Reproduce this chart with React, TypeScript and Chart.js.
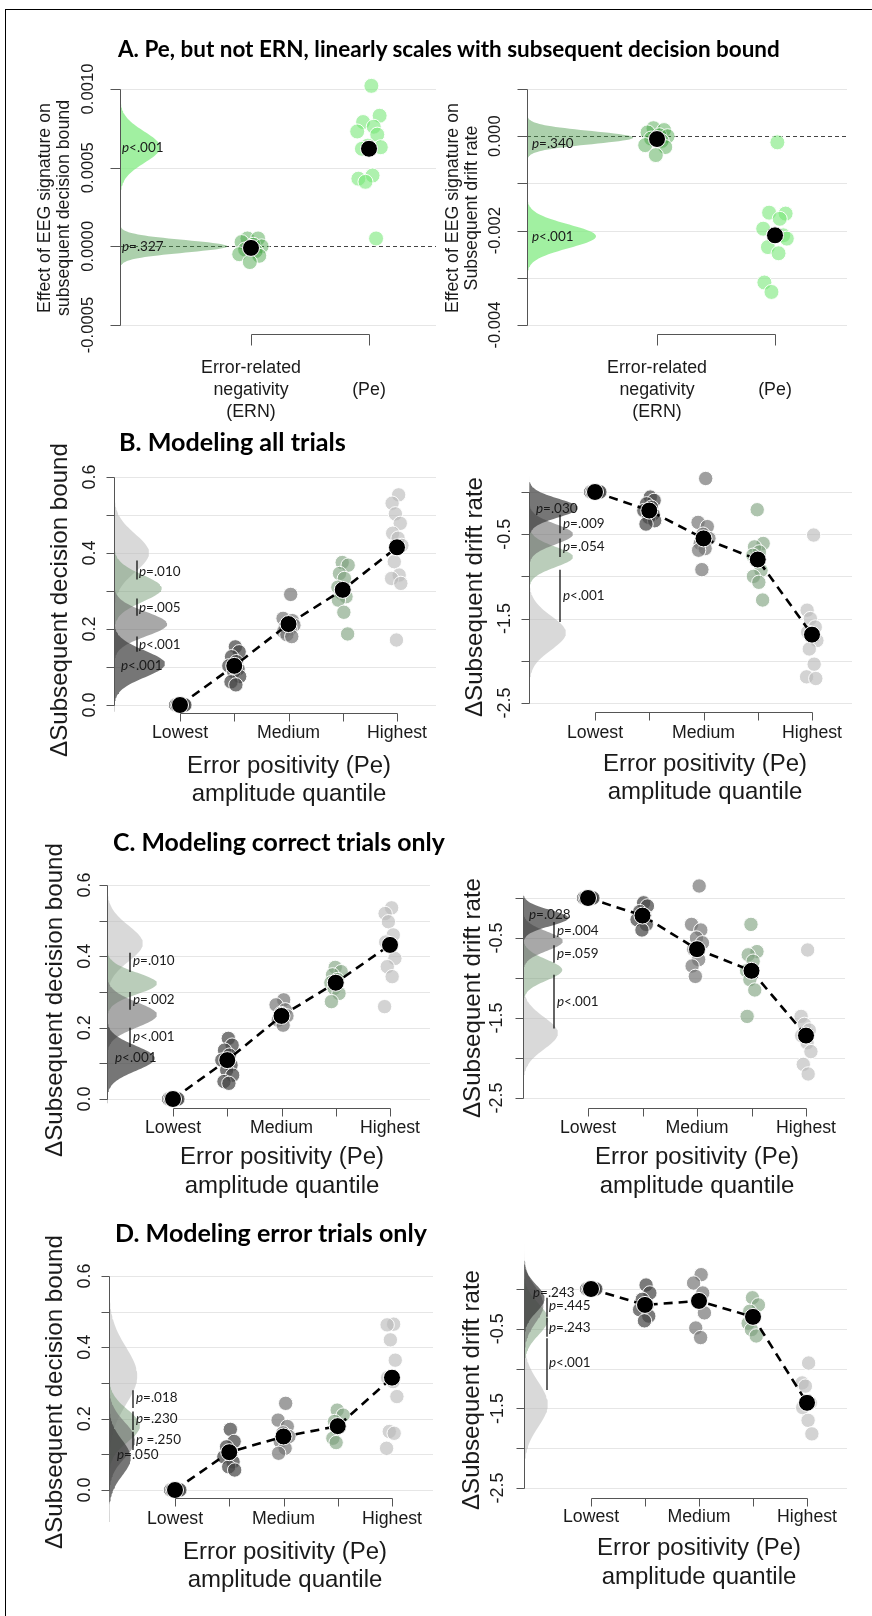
import React, { useEffect, useLayoutEffect, useRef } from "react";
import { Chart, registerables } from "chart.js";

Chart.register(...registerables);

// ======================= DATA =======================
const PANEL_TITLES = [
  "A. Pe, but not ERN, linearly scales with subsequent decision bound",
  "B. Modeling all trials",
  "C. Modeling correct trials only",
  "D. Modeling error trials only",
];

const QUANTILE_LABELS = ["Lowest", "", "Medium", "", "Highest"];
const A_CATEGORY_LABELS = [["Error-related", "negativity", "(ERN)"], ["(Pe)"]];
const X_TITLE = ["Error positivity (Pe)", "amplitude quantile"];
const BOUND_TITLE = ["ΔSubsequent decision bound"];
const DRIFT_TITLE = ["ΔSubsequent drift rate"];
const A1_Y_TITLE = ["Effect of EEG signature on", "subsequent decision bound"];
const A2_Y_TITLE = ["Effect of EEG signature on", "Subsequent drift rate"];

// fixed horizontal spread pattern (category units)
const JITTER = [-0.03, 0.06, -0.08, 0.02, 0.09, -0.05, 0.04, -0.1, 0.07, -0.01, 0.1, -0.06, 0.03, -0.09];

// ---- Panel A, left: decision bound ----
const A1_TICKS = [0.001, 0.0005, 0, -0.0005];
const A1_TICK_LABELS = ["0.0010", "0.0005", "0.0000", "-0.0005"];
const A1_ERN_POINTS = [0.00005, 0.00005, 0.000027, 0.00001, 0.0, -0.00002, -0.00003, -0.00005, -0.00006, -0.0001];
const A1_PE_POINTS = [0.00102, 0.00083, 0.00079, 0.00076, 0.00073, 0.00071, 0.00064, 0.00063, 0.00062, 0.00045, 0.00043, 0.00041, 0.00005];
const A1_MEANS = [-0.00001, 0.00062];
const A1_DENS_MEAN = [0.0, 0.00063];
const A1_DENS_SD = [0.00004, 0.0001];
const A1_DENS_PEAK = [0.91, 0.34];
const A1_P_TEXT = ["p=.327", "p<.001"];
const A1_P_Y = [0.0, 0.00063];

// ---- Panel A, right: drift rate ----
const A2_TICKS = [0.001, 0, -0.001, -0.002, -0.003, -0.004];
const A2_TICK_LABELS = ["", "0.000", "", "-0.002", "", "-0.004"];
const A2_ERN_POINTS = [0.00017, 0.00013, 0.00008, 0.00002, 0.0, -0.00005, -0.0001, -0.00019, -0.00023, -0.0004];
const A2_PE_POINTS = [-0.00013, -0.00164, -0.00162, -0.00175, -0.00196, -0.0021, -0.0021, -0.00217, -0.00235, -0.00248, -0.0031, -0.0033];
const A2_MEANS = [-0.00006, -0.0021];
const A2_DENS_MEAN = [-0.00003, -0.00212];
const A2_DENS_SD = [0.00014, 0.00025];
const A2_DENS_PEAK = [0.9, 0.585];
const A2_P_TEXT = ["p=.340", "p<.001"];
const A2_P_Y = [-0.00015, -0.00212];

// ---- shared quantile axes ----
const BOUND_TICKS = [0.6, 0.5, 0.4, 0.3, 0.2, 0.1, 0.0];
const BOUND_TICK_LABELS = ["0.6", "", "0.4", "", "0.2", "", "0.0"];
const DRIFT_TICKS = [0, -0.5, -1.0, -1.5, -2.0, -2.5];
const DRIFT_TICK_LABELS = ["", "-0.5", "", "-1.5", "", "-2.5"];
const LOWEST_POINTS = [0, 0, 0, 0, 0, 0];

// ---- Panel B ----
const B1_Q2 = [0.153, 0.14, 0.127, 0.114, 0.103, 0.095, 0.088, 0.075, 0.061, 0.053];
const B1_Q3 = [0.291, 0.228, 0.222, 0.215, 0.21, 0.206, 0.2, 0.193, 0.185, 0.18];
const B1_Q4 = [0.375, 0.368, 0.346, 0.333, 0.31, 0.294, 0.285, 0.276, 0.244, 0.187];
const B1_Q5 = [0.553, 0.531, 0.503, 0.478, 0.452, 0.439, 0.42, 0.377, 0.342, 0.333, 0.32, 0.171];
const B1_MEANS = [0, 0.103, 0.213, 0.303, 0.415];
const B1_DENS_MEAN = [0.108, 0.213, 0.307, 0.4];
const B1_DENS_SD = [0.035, 0.032, 0.035, 0.05];
const B1_DENS_PEAK = [0.94, 0.98, 0.88, 0.645];
const B1_P_TEXT = ["p=.010", "p=.005", "p<.001", "p<.001"];
const B1_P_Y = [0.35, 0.257, 0.16, 0.103];
const B1_P_BARS = [[0.38, 0.33], [0.28, 0.235], [0.18, 0.14], null];

const B2_Q2 = [-0.06, -0.1, -0.14, -0.18, -0.22, -0.26, -0.3, -0.34, -0.38];
const B2_Q3 = [0.16, -0.36, -0.41, -0.5, -0.55, -0.61, -0.67, -0.69, -0.92];
const B2_Q4 = [-0.21, -0.61, -0.65, -0.71, -0.75, -0.81, -0.93, -1.0, -1.07, -1.28];
const B2_Q5 = [-0.51, -1.4, -1.5, -1.6, -1.66, -1.72, -1.76, -1.86, -2.04, -2.19, -2.21];
const B2_MEANS = [0, -0.22, -0.55, -0.8, -1.69];
const B2_DENS_MEAN = [-0.19, -0.5, -0.77, -1.67];
const B2_DENS_SD = [0.11, 0.12, 0.12, 0.2];
const B2_DENS_PEAK = [0.9, 0.81, 0.81, 0.68];
const B2_P_TEXT = ["p=.030", "p=.009", "p=.054", "p<.001"];
const B2_P_Y = [-0.2, -0.38, -0.65, -1.23];
const B2_P_BARS = [null, [-0.27, -0.49], [-0.55, -0.77], [-0.92, -1.54]];

// ---- Panel C ----
const C1_Q2 = [0.17, 0.151, 0.137, 0.123, 0.109, 0.095, 0.081, 0.067, 0.049, 0.044];
const C1_Q3 = [0.278, 0.264, 0.25, 0.24, 0.233, 0.221, 0.207];
const C1_Q4 = [0.369, 0.357, 0.348, 0.335, 0.326, 0.31, 0.296, 0.273];
const C1_Q5 = [0.536, 0.52, 0.497, 0.46, 0.44, 0.432, 0.394, 0.371, 0.343, 0.259];
const C1_MEANS = [0, 0.109, 0.233, 0.326, 0.432];
const C1_DENS_MEAN = [0.114, 0.236, 0.324, 0.436];
const C1_DENS_SD = [0.035, 0.035, 0.03, 0.05];
const C1_DENS_PEAK = [0.88, 0.92, 0.92, 0.66];
const C1_P_TEXT = ["p=.010", "p=.002", "p<.001", "p<.001"];
const C1_P_Y = [0.387, 0.278, 0.174, 0.115];
const C1_P_BARS = [[0.41, 0.356], [0.3, 0.25], [0.2, 0.146], null];

const C2_Q2 = [-0.06, -0.1, -0.17, -0.22, -0.27, -0.33, -0.4];
const C2_Q3 = [0.15, -0.33, -0.4, -0.5, -0.56, -0.64, -0.77, -0.85, -0.98];
const C2_Q4 = [-0.33, -0.67, -0.71, -0.79, -0.91, -1.02, -1.15, -1.48];
const C2_Q5 = [-0.65, -1.48, -1.58, -1.65, -1.72, -1.81, -1.92, -2.08, -2.2];
const C2_MEANS = [0, -0.22, -0.64, -0.91, -1.72];
const C2_DENS_MEAN = [-0.25, -0.54, -0.9, -1.69];
const C2_DENS_SD = [0.1, 0.12, 0.13, 0.2];
const C2_DENS_PEAK = [0.83, 0.73, 0.72, 0.64];
const C2_P_TEXT = ["p=.028", "p=.004", "p=.059", "p<.001"];
const C2_P_Y = [-0.21, -0.41, -0.69, -1.3];
const C2_P_BARS = [null, [-0.3, -0.5], [-0.59, -0.81], [-0.96, -1.63]];

// ---- Panel D ----
const D1_Q2 = [0.17, 0.136, 0.121, 0.106, 0.093, 0.079, 0.065, 0.056];
const D1_Q3 = [0.243, 0.196, 0.178, 0.16, 0.15, 0.136, 0.117, 0.103];
const D1_Q4 = [0.224, 0.21, 0.192, 0.179, 0.145, 0.133];
const D1_Q5 = [0.465, 0.463, 0.421, 0.364, 0.315, 0.304, 0.262, 0.164, 0.159, 0.117];
const D1_MEANS = [0, 0.106, 0.15, 0.179, 0.315];
const D1_DENS_MEAN = [0.09, 0.14, 0.18, 0.32];
const D1_DENS_SD = [0.05, 0.05, 0.045, 0.08];
const D1_DENS_PEAK = [0.4, 0.48, 0.57, 0.52];
const D1_P_TEXT = ["p=.018", "p=.230", "p =.250", "p=.050"];
const D1_P_Y = [0.258, 0.2, 0.14, 0.098];
const D1_P_BARS = [[0.28, 0.23], [0.22, 0.168], [0.163, 0.112], null];

const D2_Q2 = [0.05, -0.05, -0.13, -0.2, -0.26, -0.34, -0.4];
const D2_Q3 = [0.18, 0.075, -0.05, -0.15, -0.3, -0.49, -0.61];
const D2_Q4 = [-0.11, -0.2, -0.28, -0.35, -0.43, -0.51, -0.59];
const D2_Q5 = [-0.93, -1.18, -1.22, -1.43, -1.49, -1.65, -1.82];
const D2_MEANS = [0, -0.2, -0.15, -0.35, -1.43];
const D2_DENS_MEAN = [-0.12, -0.2, -0.38, -1.45];
const D2_DENS_SD = [0.17, 0.22, 0.2, 0.28];
const D2_DENS_PEAK = [0.38, 0.36, 0.44, 0.44];
const D2_P_TEXT = ["p=.243", "p=.445", "p=.243", "p<.001"];
const D2_P_Y = [-0.04, -0.21, -0.48, -0.93];
const D2_P_BARS = [null, [-0.11, -0.35], [-0.36, -0.6], [-0.62, -1.27]];

// ======================= STYLES =======================
const A_POINT_COLORS = ["rgba(60,160,60,0.45)", "rgba(120,232,120,0.6)"];
const A_DENS_COLORS = ["rgba(70,150,70,0.45)", "rgba(130,235,130,0.75)"];
const Q_POINT_COLORS = ["rgba(45,45,45,0.75)", "rgba(70,70,70,0.72)", "rgba(118,118,118,0.7)", "rgba(125,160,125,0.62)", "rgba(188,188,188,0.65)"];
const Q_DENS_COLORS = ["rgba(60,60,60,0.7)", "rgba(110,110,110,0.6)", "rgba(118,156,118,0.5)", "rgba(185,185,185,0.55)"];

const SANS = '"Liberation Sans", Arial, Helvetica, sans-serif';
const PF = 'Lato, "Open Sans", sans-serif';

// text fitting references: [sample string, target width in px]
type Fit = [string, number];
const FIT_A_TICK: Fit = ["0.0010", 51];
const FIT_Q_TICK: Fit = ["-1.5", 31];
const FIT_A_YTITLE: Fit = ["Effect of EEG signature on", 210];
const FIT_Q_YTITLE: Fit = ["ΔSubsequent decision bound", 314];
const FIT_A_CAT: Fit = ["Error-related", 100];
const FIT_Q_CAT: Fit = ["Medium", 63];
const FIT_X_TITLE: Fit = ["Error positivity (Pe)", 204];
const FIT_P: Fit = ["p=.010", 42];

type PanelData = {
  ticks: number[];
  tickLabels: string[];
  groups: number[][];
  pointColors: string[];
  means: number[];
  meanLine: boolean;
  densMean: number[];
  densSd: number[];
  densPeak: number[];
  densColors: string[];
  pText: string[];
  pY: number[];
  pBars: (number[] | null)[];
  zeroLine: boolean;
  catLabels: string[][];
  yTitle: string[];
  xTitle: string[];
};

type Layout = {
  left: number; top: number; width: number; height: number;
  axisX: number; gridEnd: number; cat0X: number; catStep: number;
  yRef: number[]; xAxisY: number; xTickLen: number; yTickLen: number;
  tickLabelX: number; tickFit: Fit; yTitleX: number[]; yTitleCY: number; yTitleFit: Fit;
  catLabelY: number; catLineH: number; catFit: Fit;
  xTitleCX: number; xTitleY: number[];
  pBarX: number; pTextX: number; pFreeX: number;
  pointR: number; meanR: number;
};

const quantCats = QUANTILE_LABELS.map((s) => [s]);

function qPanel(ticks, tickLabels, q2, q3, q4, q5, means, dm, dsd, dp, pt, py, pb, yTitle): PanelData {
  return {
    ticks, tickLabels,
    groups: [LOWEST_POINTS, q2, q3, q4, q5],
    pointColors: Q_POINT_COLORS,
    means, meanLine: true,
    densMean: dm, densSd: dsd, densPeak: dp, densColors: Q_DENS_COLORS,
    pText: pt, pY: py, pBars: pb,
    zeroLine: false, catLabels: quantCats, yTitle, xTitle: X_TITLE,
  };
}

const PANELS: PanelData[] = [
  {
    ticks: A1_TICKS, tickLabels: A1_TICK_LABELS, groups: [A1_ERN_POINTS, A1_PE_POINTS], pointColors: A_POINT_COLORS,
    means: A1_MEANS, meanLine: false, densMean: A1_DENS_MEAN, densSd: A1_DENS_SD, densPeak: A1_DENS_PEAK, densColors: A_DENS_COLORS,
    pText: A1_P_TEXT, pY: A1_P_Y, pBars: [null, null], zeroLine: true, catLabels: A_CATEGORY_LABELS, yTitle: A1_Y_TITLE, xTitle: [],
  },
  {
    ticks: A2_TICKS, tickLabels: A2_TICK_LABELS, groups: [A2_ERN_POINTS, A2_PE_POINTS], pointColors: A_POINT_COLORS,
    means: A2_MEANS, meanLine: false, densMean: A2_DENS_MEAN, densSd: A2_DENS_SD, densPeak: A2_DENS_PEAK, densColors: A_DENS_COLORS,
    pText: A2_P_TEXT, pY: A2_P_Y, pBars: [null, null], zeroLine: true, catLabels: A_CATEGORY_LABELS, yTitle: A2_Y_TITLE, xTitle: [],
  },
  qPanel(BOUND_TICKS, BOUND_TICK_LABELS, B1_Q2, B1_Q3, B1_Q4, B1_Q5, B1_MEANS, B1_DENS_MEAN, B1_DENS_SD, B1_DENS_PEAK, B1_P_TEXT, B1_P_Y, B1_P_BARS, BOUND_TITLE),
  qPanel(DRIFT_TICKS, DRIFT_TICK_LABELS, B2_Q2, B2_Q3, B2_Q4, B2_Q5, B2_MEANS, B2_DENS_MEAN, B2_DENS_SD, B2_DENS_PEAK, B2_P_TEXT, B2_P_Y, B2_P_BARS, DRIFT_TITLE),
  qPanel(BOUND_TICKS, BOUND_TICK_LABELS, C1_Q2, C1_Q3, C1_Q4, C1_Q5, C1_MEANS, C1_DENS_MEAN, C1_DENS_SD, C1_DENS_PEAK, C1_P_TEXT, C1_P_Y, C1_P_BARS, BOUND_TITLE),
  qPanel(DRIFT_TICKS, DRIFT_TICK_LABELS, C2_Q2, C2_Q3, C2_Q4, C2_Q5, C2_MEANS, C2_DENS_MEAN, C2_DENS_SD, C2_DENS_PEAK, C2_P_TEXT, C2_P_Y, C2_P_BARS, DRIFT_TITLE),
  qPanel(BOUND_TICKS, BOUND_TICK_LABELS, D1_Q2, D1_Q3, D1_Q4, D1_Q5, D1_MEANS, D1_DENS_MEAN, D1_DENS_SD, D1_DENS_PEAK, D1_P_TEXT, D1_P_Y, D1_P_BARS, BOUND_TITLE),
  qPanel(DRIFT_TICKS, DRIFT_TICK_LABELS, D2_Q2, D2_Q3, D2_Q4, D2_Q5, D2_MEANS, D2_DENS_MEAN, D2_DENS_SD, D2_DENS_PEAK, D2_P_TEXT, D2_P_Y, D2_P_BARS, DRIFT_TITLE),
];

const baseA = { xAxisY: 334, xTickLen: 11, yTickLen: 10, tickFit: FIT_A_TICK, yTitleFit: FIT_A_YTITLE, catLabelY: 390, catLineH: 22, catFit: FIT_A_CAT, xTitleCX: 0, xTitleY: [], pBarX: 0, pTextX: 0, pointR: 7.5, meanR: 8.5, yTitleCY: 208 };
const baseQ = { xTickLen: 8, yTickLen: 8, tickFit: FIT_Q_TICK, yTitleFit: FIT_Q_YTITLE, catLineH: 22, catFit: FIT_Q_CAT, pointR: 7.2, meanR: 8.5 };

const LAYOUTS: Layout[] = [
  { ...baseA, left: 0, top: 60, width: 436, height: 370, axisX: 120, gridEnd: 436, cat0X: 251, catStep: 118, yRef: [0.001, 89, -0.0005, 325], tickLabelX: 88, yTitleX: [45, 64], pFreeX: 122 },
  { ...baseA, left: 436, top: 60, width: 436, height: 370, axisX: 527, gridEnd: 847, cat0X: 657, catStep: 118, yRef: [0.001, 89, -0.004, 325], tickLabelX: 495, yTitleX: [453, 472], pFreeX: 532 },
  { ...baseQ, left: 0, top: 430, width: 436, height: 380, axisX: 114, gridEnd: 436, cat0X: 180, catStep: 54.25, yRef: [0.6, 477, 0, 705], xAxisY: 713, tickLabelX: 90, yTitleX: [60], yTitleCY: 600, catLabelY: 733, xTitleCX: 289, xTitleY: [766, 794], pBarX: 137, pTextX: 139, pFreeX: 121 },
  { ...baseQ, left: 436, top: 430, width: 436, height: 380, axisX: 529, gridEnd: 852, cat0X: 595, catStep: 54.25, yRef: [0, 492, -2.5, 703], xAxisY: 712, tickLabelX: 505, yTitleX: [475], yTitleCY: 597, catLabelY: 733, xTitleCX: 705, xTitleY: [764, 792], pBarX: 560, pTextX: 563, pFreeX: 536 },
  { ...baseQ, left: 0, top: 820, width: 436, height: 385, axisX: 107, gridEnd: 430, cat0X: 173, catStep: 54.25, yRef: [0.6, 885, 0, 1099], xAxisY: 1108, tickLabelX: 85, yTitleX: [55], yTitleCY: 1000, catLabelY: 1128, xTitleCX: 282, xTitleY: [1157, 1186], pBarX: 130, pTextX: 133, pFreeX: 115 },
  { ...baseQ, left: 436, top: 820, width: 436, height: 385, axisX: 523, gridEnd: 845, cat0X: 588, catStep: 54.5, yRef: [0, 898, -2.5, 1098], xAxisY: 1108, tickLabelX: 497, yTitleX: [473], yTitleCY: 998, catLabelY: 1128, xTitleCX: 697, xTitleY: [1157, 1186], pBarX: 554, pTextX: 557, pFreeX: 529 },
  { ...baseQ, left: 0, top: 1210, width: 436, height: 406, axisX: 109, gridEnd: 433, cat0X: 175, catStep: 54.25, yRef: [0.6, 1276, 0, 1490], xAxisY: 1498, tickLabelX: 85, yTitleX: [55], yTitleCY: 1392, catLabelY: 1519, xTitleCX: 285, xTitleY: [1552, 1580], pBarX: 133, pTextX: 136, pFreeX: 117 },
  { ...baseQ, left: 436, top: 1210, width: 436, height: 406, axisX: 524, gridEnd: 847, cat0X: 591, catStep: 54, yRef: [0, 1289, -2.5, 1488], xAxisY: 1498, tickLabelX: 498, yTitleX: [472], yTitleCY: 1390, catLabelY: 1517, xTitleCX: 699, xTitleY: [1548, 1577], pBarX: 547, pTextX: 549, pFreeX: 533 },
];

const TITLE_POS = [
  { x: 118, y: 50, w: 662 },
  { x: 119, y: 442, w: 227 },
  { x: 113, y: 842, w: 332 },
  { x: 115, y: 1233, w: 312 },
];

// ======================= DRAWING =======================
function densityShape(m: number, sd: number, peak: number, base: number) {
  const pts: { x: number; y: number }[] = [];
  const n = 80;
  for (let i = 0; i <= n; i++) {
    const y = m - 3.6 * sd + (7.2 * sd * i) / n;
    const z = (y - m) / sd;
    pts.push({ x: base + peak * Math.exp(-0.5 * z * z), y });
  }
  return pts;
}

function fitSize(ctx: CanvasRenderingContext2D, fit: Fit, family: string) {
  ctx.save();
  ctx.font = `100px ${family}`;
  const w = ctx.measureText(fit[0]).width || 1;
  ctx.restore();
  return (100 * fit[1]) / w;
}

function vText(ctx: CanvasRenderingContext2D, text: string, x: number, y: number, font: string) {
  ctx.save();
  ctx.translate(x, y);
  ctx.rotate(-Math.PI / 2);
  ctx.font = font;
  ctx.textAlign = "center";
  ctx.textBaseline = "middle";
  ctx.fillText(text, 0, 0);
  ctx.restore();
}

function pLabel(ctx: CanvasRenderingContext2D, text: string, x: number, y: number, size: number) {
  ctx.textAlign = "left";
  ctx.textBaseline = "middle";
  ctx.font = `italic ${size}px ${PF}`;
  ctx.fillText(text.charAt(0), x, y);
  const w = ctx.measureText(text.charAt(0)).width;
  ctx.font = `${size}px ${PF}`;
  ctx.fillText(text.slice(1), x + w, y);
}

function makePlugin(L: Layout, D: PanelData) {
  return {
    id: "rstyle",
    beforeDatasetsDraw(chart: any) {
      const ctx = chart.ctx as CanvasRenderingContext2D;
      const ys = chart.scales.y;
      const area = chart.chartArea;
      ctx.save();
      ctx.strokeStyle = "#e6e6e6";
      ctx.lineWidth = 1;
      D.ticks.forEach((t) => {
        if (D.zeroLine && t === 0) return;
        const py = Math.round(ys.getPixelForValue(t)) + 0.5;
        ctx.beginPath();
        ctx.moveTo(area.left, py);
        ctx.lineTo(area.right, py);
        ctx.stroke();
      });
      if (D.zeroLine) {
        const py = Math.round(ys.getPixelForValue(0)) + 0.5;
        ctx.strokeStyle = "#444";
        ctx.setLineDash([4, 3]);
        ctx.beginPath();
        ctx.moveTo(area.left, py);
        ctx.lineTo(area.right, py);
        ctx.stroke();
      }
      ctx.restore();
    },
    afterDatasetsDraw(chart: any) {
      const ctx = chart.ctx as CanvasRenderingContext2D;
      const xs = chart.scales.x;
      const ys = chart.scales.y;
      const ox = L.left;
      const oy = L.top;
      const ax = Math.round(chart.chartArea.left) + 0.5;
      const tickSize = fitSize(ctx, L.tickFit, SANS);
      const yTitleSize = fitSize(ctx, L.yTitleFit, SANS);
      const catSize = fitSize(ctx, L.catFit, SANS);
      const xTitleSize = fitSize(ctx, FIT_X_TITLE, SANS);
      const pSize = fitSize(ctx, FIT_P, PF);
      ctx.save();
      ctx.strokeStyle = "#555";
      ctx.lineWidth = 1;
      // y axis
      const tMax = Math.max(...D.ticks);
      const tMin = Math.min(...D.ticks);
      ctx.beginPath();
      ctx.moveTo(ax, Math.round(ys.getPixelForValue(tMax)) + 0.5);
      ctx.lineTo(ax, Math.round(ys.getPixelForValue(tMin)) + 0.5);
      D.ticks.forEach((t) => {
        const py = Math.round(ys.getPixelForValue(t)) + 0.5;
        ctx.moveTo(ax - L.yTickLen, py);
        ctx.lineTo(ax, py);
      });
      ctx.stroke();
      ctx.fillStyle = "#1a1a1a";
      D.tickLabels.forEach((lab, i) => {
        if (!lab) return;
        vText(ctx, lab, L.tickLabelX - ox, ys.getPixelForValue(D.ticks[i]), `${tickSize}px ${SANS}`);
      });
      D.yTitle.forEach((line, i) => {
        vText(ctx, line, L.yTitleX[i] - ox, L.yTitleCY - oy, `${yTitleSize}px ${SANS}`);
      });
      // x axis
      const n = D.catLabels.length;
      const xa = Math.round(L.xAxisY - oy) + 0.5;
      ctx.beginPath();
      ctx.moveTo(Math.round(xs.getPixelForValue(0)) + 0.5, xa);
      ctx.lineTo(Math.round(xs.getPixelForValue(n - 1)) + 0.5, xa);
      for (let i = 0; i < n; i++) {
        const px = Math.round(xs.getPixelForValue(i)) + 0.5;
        ctx.moveTo(px, xa);
        ctx.lineTo(px, xa + L.xTickLen);
      }
      ctx.stroke();
      ctx.font = `${catSize}px ${SANS}`;
      ctx.textAlign = "center";
      ctx.textBaseline = "middle";
      D.catLabels.forEach((lines, i) => {
        lines.forEach((s, j) => {
          if (!s) return;
          ctx.fillText(s, xs.getPixelForValue(i), L.catLabelY - oy + (j - (lines.length - 1) / 2) * L.catLineH);
        });
      });
      ctx.font = `${xTitleSize}px ${SANS}`;
      D.xTitle.forEach((s, j) => {
        ctx.fillText(s, L.xTitleCX - ox, L.xTitleY[j] - oy);
      });
      // p-value annotations
      ctx.strokeStyle = "#111";
      ctx.lineWidth = 1.3;
      ctx.fillStyle = "#1a1a1a";
      D.pText.forEach((s, i) => {
        const bar = D.pBars[i];
        const py = ys.getPixelForValue(D.pY[i]);
        if (bar) {
          const bx = L.pBarX - ox;
          ctx.beginPath();
          ctx.moveTo(bx, ys.getPixelForValue(bar[0]));
          ctx.lineTo(bx, ys.getPixelForValue(bar[1]));
          ctx.stroke();
          pLabel(ctx, s, L.pTextX - ox, py, pSize);
        } else {
          pLabel(ctx, s, L.pFreeX - ox, py, pSize);
        }
      });
      ctx.restore();
    },
  };
}

function buildChart(canvas: HTMLCanvasElement, L: Layout, D: PanelData) {
  const W = L.width;
  const H = L.height;
  const padL = L.axisX - L.left;
  const padR = L.left + W - L.gridEnd;
  const xMin = (L.axisX - L.cat0X) / L.catStep;
  const xMax = (L.gridEnd - L.cat0X) / L.catStep;
  const [v1, p1, v0, p0] = L.yRef;
  const k = (p0 - p1) / (v1 - v0);
  const topPix = L.top + 2;
  const botPix = L.top + H - 2;
  const yMax = v1 + (p1 - topPix) / k;
  const yMin = v0 - (botPix - p0) / k;

  const datasets: any[] = [];
  datasets.push({
    type: "line",
    data: D.means.map((v, i) => ({ x: i, y: v })),
    showLine: D.meanLine,
    borderColor: "#000",
    borderWidth: 2.6,
    borderDash: [9, 6],
    pointRadius: L.meanR,
    pointBackgroundColor: "#000",
    pointBorderColor: "#fff",
    pointBorderWidth: 1,
    fill: false,
    tension: 0,
    order: 0,
    clip: false,
  });
  const ng = D.groups.length;
  D.groups.forEach((g, gi) => {
    datasets.push({
      type: "scatter",
      data: g.map((v, i) => ({ x: gi + JITTER[(i + gi * 3) % JITTER.length], y: v })),
      showLine: false,
      pointRadius: L.pointR,
      backgroundColor: D.pointColors[gi],
      pointBackgroundColor: D.pointColors[gi],
      borderColor: "rgba(255,255,255,0.95)",
      pointBorderColor: "rgba(255,255,255,0.95)",
      borderWidth: 1,
      pointBorderWidth: 1,
      order: 2 + (ng - gi),
      clip: false,
    });
  });
  D.densMean.forEach((m, j) => {
    datasets.push({
      type: "line",
      data: densityShape(m, D.densSd[j], D.densPeak[j], xMin),
      showLine: true,
      borderColor: "rgba(0,0,0,0)",
      borderWidth: 0,
      pointRadius: 0,
      backgroundColor: D.densColors[j],
      fill: "shape",
      tension: 0,
      order: 20 + j,
      clip: false,
    });
  });

  return new Chart(canvas, {
    type: "scatter",
    data: { datasets },
    options: {
      responsive: false,
      maintainAspectRatio: false,
      animation: false,
      devicePixelRatio: 1,
      events: [],
      layout: { autoPadding: false, padding: { left: padL, right: padR, top: 2, bottom: 2 } },
      plugins: { legend: { display: false }, tooltip: { enabled: false } },
      scales: {
        x: { type: "linear", display: false, min: xMin, max: xMax, bounds: "data" },
        y: { type: "linear", display: false, min: yMin, max: yMax, bounds: "data" },
      },
    } as any,
    plugins: [makePlugin(L, D)],
  });
}

function FitTitle({ text, x, y, w }: { text: string; x: number; y: number; w: number }) {
  const ref = useRef<HTMLSpanElement>(null);
  useLayoutEffect(() => {
    const el = ref.current;
    if (!el) return;
    el.style.fontSize = "20px";
    const mw = el.getBoundingClientRect().width || 1;
    const fs = (20 * w) / mw;
    el.style.fontSize = fs + "px";
    el.style.lineHeight = fs + "px";
    el.style.top = y - 0.53 * fs + "px";
  }, [w, y]);
  return (
    <span
      ref={ref}
      style={{
        position: "absolute",
        left: x,
        top: y - 10,
        whiteSpace: "nowrap",
        fontFamily: 'Lato, "Open Sans", sans-serif',
        fontWeight: 700,
        fontSize: 20,
        lineHeight: "20px",
        color: "#000",
      }}
    >
      {text}
    </span>
  );
}

export default function App() {
  const refs = useRef<(HTMLCanvasElement | null)[]>([]);
  useEffect(() => {
    const charts = LAYOUTS.map((L, i) => {
      const c = refs.current[i];
      return c ? buildChart(c, L, PANELS[i]) : null;
    });
    return () => {
      charts.forEach((c) => c && c.destroy());
    };
  }, []);

  return (
    <div style={{ position: "absolute", left: 0, top: 0, width: 872, height: 1616, background: "#fff", overflow: "hidden" }}>
      <div
        style={{
          position: "absolute",
          left: 5,
          top: 9,
          width: 880,
          height: 1620,
          borderTop: "1px solid #000",
          borderLeft: "1px solid #000",
        }}
      />
      {LAYOUTS.map((L, i) => (
        <canvas
          key={i}
          ref={(el) => {
            refs.current[i] = el;
          }}
          width={L.width}
          height={L.height}
          style={{ position: "absolute", left: L.left, top: L.top, width: L.width, height: L.height }}
        />
      ))}
      {PANEL_TITLES.map((t, i) => (
        <FitTitle key={i} text={t} x={TITLE_POS[i].x} y={TITLE_POS[i].y} w={TITLE_POS[i].w} />
      ))}
    </div>
  );
}
